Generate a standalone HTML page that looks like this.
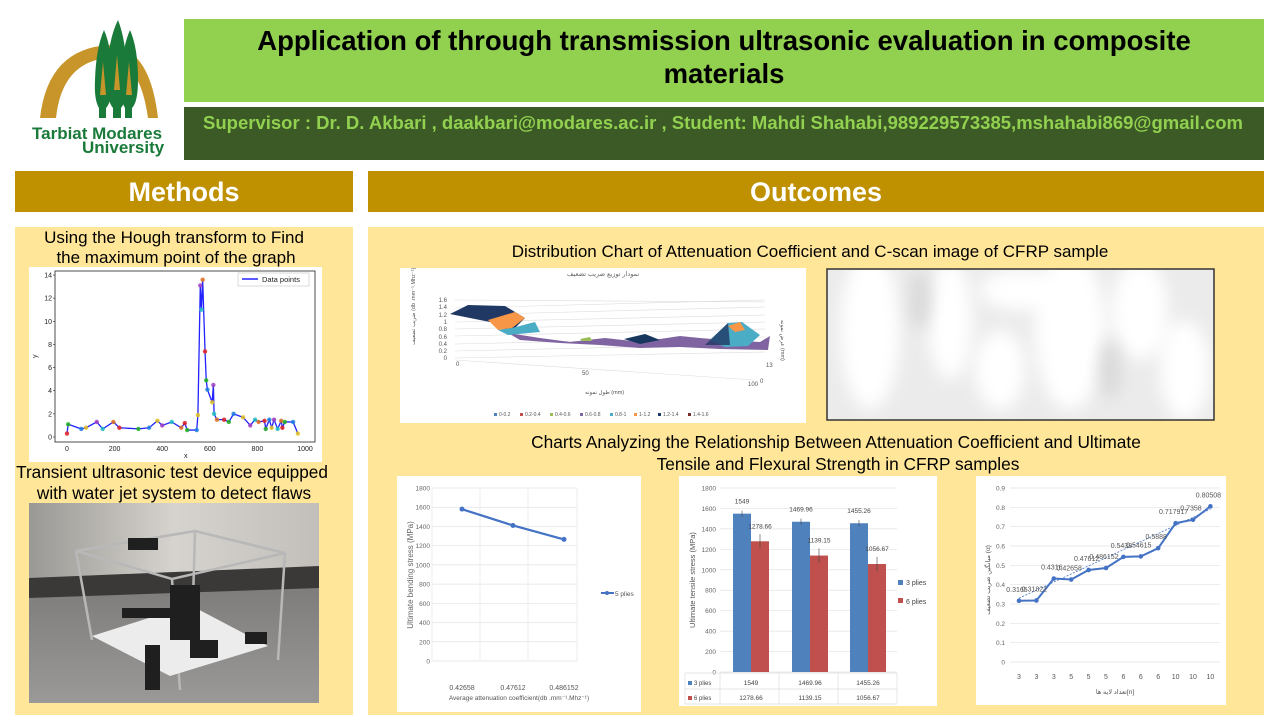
<!DOCTYPE html>
<html><head><meta charset="utf-8">
<style>
html,body{margin:0;padding:0;background:#fff;}
body{width:1280px;height:720px;overflow:hidden;font-family:"Liberation Sans","DejaVu Sans",sans-serif;}
svg text{font-family:"Liberation Sans","DejaVu Sans",sans-serif;}
</style></head><body>
<svg id="s" width="1280" height="720" viewBox="0 0 1280 720" xmlns="http://www.w3.org/2000/svg">
<defs>
<filter id="bl" x="-50%" y="-50%" width="200%" height="200%"><feGaussianBlur stdDeviation="8"/></filter>
<clipPath id="cs"><rect x="828" y="270" width="385" height="149"/></clipPath>
<linearGradient id="wall" x1="0" y1="0" x2="1" y2="0"><stop offset="0" stop-color="#9a9894"/><stop offset="0.5" stop-color="#d6d3ce"/><stop offset="1" stop-color="#c2bfba"/></linearGradient>
<linearGradient id="floor" x1="0" y1="0" x2="0" y2="1"><stop offset="0" stop-color="#7e7d7b"/><stop offset="1" stop-color="#9a9997"/></linearGradient>
</defs>
<rect width="1280" height="720" fill="#fff"/>
<!-- logo -->
<path d="M40,118 Q48,48 110,45 Q150,48 158,118 L148,118 Q140,60 108,58 Q62,62 56,118 Z" fill="#c8952a"/>
<path d="M118,20 Q126,40 127,75 Q128,100 121,108 L121,118 L113,118 L113,108 Q106,100 107,75 Q108,40 118,20Z" fill="#1a7a3a"/>
<path d="M104,30 Q112,48 112,80 Q112,102 106,108 L106,118 L99,118 L99,108 Q94,100 95,80 Q96,48 104,30Z" fill="#1a7a3a"/>
<path d="M130,30 Q138,48 138,80 Q138,102 132,108 L132,118 L125,118 L125,108 Q120,100 121,80 Q122,48 130,30Z" fill="#1a7a3a"/>
<path d="M103,62 L106,95 L100,95Z M129,62 L132,95 L126,95Z M117,55 L120,90 L114,90Z" fill="#c8952a"/>
<text x="32" y="139" font-size="17" font-weight="bold" fill="#1a7a3a">Tarbiat Modares</text>
<text x="82" y="153" font-size="17" font-weight="bold" fill="#1a7a3a">University</text>
<!-- header -->
<rect x="184" y="19" width="1080" height="83" fill="#92d050"/>
<text x="724" y="50" font-size="27.5" font-weight="bold" text-anchor="middle">Application of through transmission ultrasonic evaluation in composite</text>
<text x="724" y="83" font-size="27.5" font-weight="bold" text-anchor="middle">materials</text>
<rect x="184" y="107" width="1080" height="53" fill="#3b5a25"/>
<text x="723" y="129" font-size="18.5" font-weight="bold" fill="#92d050" text-anchor="middle">Supervisor : Dr. D. Akbari , daakbari@modares.ac.ir , Student: Mahdi Shahabi,989229573385,mshahabi869@gmail.com</text>
<rect x="15" y="171" width="338" height="41" fill="#bf9000"/>
<text x="184" y="201" font-size="27" font-weight="bold" fill="#fff" text-anchor="middle">Methods</text>
<rect x="368" y="171" width="896" height="41" fill="#bf9000"/>
<text x="816" y="201" font-size="27" font-weight="bold" fill="#fff" text-anchor="middle">Outcomes</text>
<rect x="15" y="227" width="338" height="488" fill="#ffe699"/>
<rect x="368" y="227" width="896" height="488" fill="#ffe699"/>
<text x="174" y="243" font-size="17" text-anchor="middle">Using the Hough transform to Find</text>
<text x="176" y="263" font-size="17" text-anchor="middle">the maximum point of the graph</text>
<!-- hough chart -->
<rect x="29" y="267" width="293" height="195" fill="#fff"/>
<rect x="55" y="271" width="260" height="171" fill="none" stroke="#222" stroke-width="0.8"/>
<g id="hough"></g>
<rect x="238" y="273" width="71" height="13" fill="#fff" stroke="#ccc" stroke-width="0.7"/>
<line x1="242" y1="279" x2="258" y2="279" stroke="#2222ff" stroke-width="1.5"/>
<text x="262" y="282" font-size="7.5" fill="#222">Data points</text>
<text x="184" y="458" font-size="7" fill="#222">x</text>
<text x="37" y="358" font-size="7" fill="#222" transform="rotate(-90 37 358)">y</text>
<text x="172" y="478" font-size="17.2" text-anchor="middle">Transient ultrasonic test device equipped</text>
<text x="174" y="499" font-size="17.2" text-anchor="middle">with water jet system to detect flaws</text>
<!-- photo -->
<rect x="29" y="503" width="290" height="200" fill="url(#wall)"/>
<polygon points="29,578 319,566 319,590 29,600" fill="#3a3937"/>
<polygon points="29,598 319,588 319,703 29,703" fill="url(#floor)"/>
<g stroke="#b8b8b8" stroke-width="2.5" fill="none">
<polyline points="76,551 195,531 285,553 172,579 76,551"/>
<line x1="76" y1="551" x2="92" y2="640"/><line x1="172" y1="579" x2="180" y2="690"/><line x1="285" y1="553" x2="278" y2="660"/><line x1="195" y1="531" x2="193" y2="600"/>
</g>
<polygon points="92,636 190,605 268,646 170,676" fill="#ececec"/>
<g fill="#1f1f1f"><rect x="170" y="585" width="30" height="55"/><rect x="128" y="538" width="30" height="12"/><rect x="122" y="608" width="55" height="10"/><rect x="190" y="640" width="28" height="18"/><rect x="245" y="632" width="22" height="12"/><rect x="145" y="645" width="15" height="45"/></g>
<!-- outcomes titles -->
<text x="810" y="257" font-size="17" text-anchor="middle">Distribution Chart of  Attenuation Coefficient and C-scan image of CFRP sample</text>
<!-- 3D chart -->
<rect x="400" y="268" width="406" height="155" fill="#fff"/>
<text x="603" y="276" font-size="6.5" fill="#666" text-anchor="middle">نمودار توزیع ضریب تضعیف</text>
<g stroke="#ddd" stroke-width="0.6" fill="none">
<path d="M455,358 L765,352 M455,351 L765,344 M455,344 L765,337 M455,336 L765,329 M455,329 L765,322 M455,322 L765,315 M455,315 L765,307 M455,308 L765,300 M455,300 L765,302"/>
<path d="M455,360 L755,380"/>
</g>
<g font-size="6" fill="#555" text-anchor="end">
<text x="447" y="360">0</text><text x="447" y="353">0.2</text><text x="447" y="346">0.4</text><text x="447" y="339">0.6</text><text x="447" y="331">0.8</text><text x="447" y="324">1</text><text x="447" y="317">1.2</text><text x="447" y="309">1.4</text><text x="447" y="302">1.6</text>
</g>
<text x="456" y="366" font-size="6" fill="#555">0</text><text x="582" y="375" font-size="6" fill="#555">50</text><text x="748" y="386" font-size="6" fill="#555">100</text><text x="760" y="383" font-size="6" fill="#555">0</text><text x="766" y="367" font-size="6" fill="#555">13</text>
<text x="585" y="394" font-size="5.5" fill="#555">طول نمونه (mm)</text>
<text x="415" y="345" font-size="5.5" fill="#555" transform="rotate(-90 415 345)">ضریب تضعیف (db .mm⁻¹.Mhz⁻¹)</text>
<text x="781" y="320" font-size="5.5" fill="#555" transform="rotate(90 781 320)">عرض نمونه (mm)</text>
<polygon points="508,333 540,338 570,342 605,338 640,342 680,336 720,340 760,342 770,336 768,350 720,349 680,347 640,348 600,345 560,343 520,340" fill="#8064a2"/>
<polygon points="450,314 468,305 505,306 525,318 510,333 490,322" fill="#1f3864"/>
<polygon points="488,320 515,312 525,318 512,328 498,330" fill="#f79646"/>
<polygon points="498,330 512,328 535,322 540,332 508,335" fill="#4bacc6"/>
<polygon points="624,339 645,334 660,340 640,344" fill="#17375e"/>
<polygon points="710,340 728,323 742,322 760,335 748,346 725,347" fill="#4bacc6"/>
<polygon points="728,326 740,322 745,330 735,332" fill="#f79646"/>
<polygon points="705,345 728,323 730,345" fill="#1f3864" opacity="0.8"/>
<polygon points="580,339 590,337 592,341 582,341" fill="#9bbb59"/>
<g font-size="5" fill="#555">
<rect x="494" y="413" width="3" height="3" fill="#4f81bd"/><text x="499" y="416">0-0.2</text>
<rect x="520" y="413" width="3" height="3" fill="#c0504d"/><text x="525" y="416">0.2-0.4</text>
<rect x="550" y="413" width="3" height="3" fill="#9bbb59"/><text x="555" y="416">0.4-0.6</text>
<rect x="580" y="413" width="3" height="3" fill="#8064a2"/><text x="585" y="416">0.6-0.8</text>
<rect x="610" y="413" width="3" height="3" fill="#4bacc6"/><text x="615" y="416">0.8-1</text>
<rect x="634" y="413" width="3" height="3" fill="#f79646"/><text x="639" y="416">1-1.2</text>
<rect x="658" y="413" width="3" height="3" fill="#1f3864"/><text x="663" y="416">1.2-1.4</text>
<rect x="688" y="413" width="3" height="3" fill="#772c2a"/><text x="693" y="416">1.4-1.6</text>
</g>
<!-- C-scan -->
<rect x="827" y="269" width="387" height="151" fill="#ebebeb"/>
<g clip-path="url(#cs)">
<g filter="url(#bl)" fill="#fff">
<ellipse cx="870" cy="330" rx="30" ry="80"/><ellipse cx="950" cy="320" rx="22" ry="60"/><ellipse cx="1000" cy="370" rx="25" ry="40"/><ellipse cx="1070" cy="330" rx="35" ry="80"/><ellipse cx="1140" cy="310" rx="28" ry="50"/><ellipse cx="1185" cy="370" rx="25" ry="50"/><ellipse cx="1020" cy="290" rx="40" ry="20"/>
</g>
<g filter="url(#bl)" fill="#d8d8d8"><ellipse cx="920" cy="300" rx="10" ry="30"/><ellipse cx="1110" cy="370" rx="10" ry="30"/></g>
</g>
<rect x="827" y="269" width="387" height="151" fill="none" stroke="#333" stroke-width="1.5"/>
<text x="836" y="448" font-size="17.3" text-anchor="middle">Charts Analyzing the Relationship Between Attenuation Coefficient and Ultimate</text>
<text x="838" y="470" font-size="17.3" text-anchor="middle">Tensile and Flexural Strength in CFRP samples</text>
<!-- chart1 -->
<rect x="397" y="476" width="244" height="236" fill="#fff"/>
<g id="c1"></g>
<!-- chart2 -->
<rect x="679" y="476" width="258" height="230" fill="#fff"/>
<g id="c2"></g>
<!-- chart3 -->
<rect x="976" y="476" width="250" height="229" fill="#fff"/>
<g id="c3"></g>
</svg>
<script>
var NS="http://www.w3.org/2000/svg";
function el(p,t,a,txt){var e=document.createElementNS(NS,t);for(var k in a)e.setAttribute(k,a[k]);if(txt!==undefined)e.textContent=txt;document.getElementById(p).appendChild(e);return e;}
var hx=function(x){return 67+x*0.238},hy=function(y){return 437-y*11.57};
for(var i=0;i<=14;i+=2){el('hough','text',{x:52,y:hy(i)+2.5,'font-size':7,fill:'#222','text-anchor':'end'},i);el('hough','line',{x1:53,x2:55,y1:hy(i),y2:hy(i),stroke:'#222','stroke-width':0.6});}
for(var i=0;i<=1000;i+=200){el('hough','text',{x:hx(i),y:451,'font-size':7,fill:'#222','text-anchor':'middle'},i);}
var hd=[[0,0.3],[5,1.1],[60,0.7],[80,0.8],[125,1.3],[150,0.7],[195,1.3],[220,0.8],[300,0.7],[345,0.8],[380,1.4],[400,1.0],[440,1.3],[480,0.8],[495,1.2],[505,0.6],[545,0.6],[550,1.9],[560,13.1],[565,11],[570,13.6],[580,7.4],[585,4.9],[590,4.1],[610,3],[615,4.5],[618,2],[630,1.5],[660,1.5],[680,1.3],[700,2],[740,1.7],[770,1],[790,1.5],[805,1.3],[830,1.4],[835,0.7],[850,1.5],[860,0.8],[870,1.5],[885,0.7],[900,1.4],[905,0.8],[915,1.3],[950,1.3],[970,0.3]];
var cols=['#e02020','#20b020','#2080e0','#e0c020','#a040c0','#20c0c0','#e07020'];
el('hough','polyline',{points:hd.map(function(d){return hx(d[0])+','+hy(d[1])}).join(' '),fill:'none',stroke:'#2222ff','stroke-width':1.3});
hd.forEach(function(d,i){el('hough','circle',{cx:hx(d[0]),cy:hy(d[1]),r:2.2,fill:cols[i%7],opacity:0.85});});
var y1=function(v){return 661-v/1800*173};
for(var v=0;v<=1800;v+=200){el('c1','line',{x1:432,x2:577,y1:y1(v),y2:y1(v),stroke:'#e2e2e2','stroke-width':0.7});el('c1','text',{x:430,y:y1(v)+2.5,'font-size':6.5,fill:'#666','text-anchor':'end'},v);}
[432,480,528,577].forEach(function(x){el('c1','line',{x1:x,x2:x,y1:488,y2:661,stroke:'#e6e6e6','stroke-width':0.7});});
var p1=[[462,1580],[513,1410],[564,1265]];
el('c1','polyline',{points:p1.map(function(p){return p[0]+','+y1(p[1])}).join(' '),fill:'none',stroke:'#4472c4','stroke-width':2.2});
p1.forEach(function(p){el('c1','circle',{cx:p[0],cy:y1(p[1]),r:2.5,fill:'#4472c4'});});
['0.42658','0.47612','0.486152'].forEach(function(t,i){el('c1','text',{x:p1[i][0],y:690,'font-size':7,fill:'#555','text-anchor':'middle'},t);});
el('c1','text',{x:519,y:700,'font-size':6.5,fill:'#555','text-anchor':'middle'},'Average attenuation coefficient(db .mm⁻¹.Mhz⁻¹)');
el('c1','text',{x:413,y:575,'font-size':8,fill:'#666','text-anchor':'middle',transform:'rotate(-90 413 575)'},'Ultimate bending  stress (MPa)');
el('c1','line',{x1:601,x2:614,y1:593,y2:593,stroke:'#4472c4','stroke-width':2});el('c1','circle',{cx:607,cy:593,r:2,fill:'#4472c4'});
el('c1','text',{x:615,y:596,'font-size':6.5,fill:'#555'},'5 plies');
var y2=function(v){return 672-v/1800*184};
for(var v=0;v<=1800;v+=200){el('c2','line',{x1:720,x2:897,y1:y2(v),y2:y2(v),stroke:'#e2e2e2','stroke-width':0.7});el('c2','text',{x:716,y:y2(v)+2.5,'font-size':6.5,fill:'#666','text-anchor':'end'},v);}
var b3=[1549,1469.96,1455.26],b6=[1278.66,1139.15,1056.67],bx=[733,792,850];
for(var i=0;i<3;i++){
el('c2','rect',{x:bx[i],y:y2(b3[i]),width:18,height:672-y2(b3[i]),fill:'#4f81bd'});
el('c2','rect',{x:bx[i]+18,y:y2(b6[i]),width:18,height:672-y2(b6[i]),fill:'#c0504d'});
el('c2','line',{x1:bx[i]+9,x2:bx[i]+9,y1:y2(b3[i]+30),y2:y2(b3[i]-30),stroke:'#444','stroke-width':0.6});
el('c2','line',{x1:bx[i]+27,x2:bx[i]+27,y1:y2(b6[i]+70),y2:y2(b6[i]-70),stroke:'#444','stroke-width':0.6});
el('c2','text',{x:bx[i]+9,y:y2(b3[i])-10,'font-size':6.5,fill:'#444','text-anchor':'middle'},b3[i]);
el('c2','text',{x:bx[i]+27,y:y2(b6[i])-13,'font-size':6.5,fill:'#444','text-anchor':'middle'},b6[i]);
el('c2','text',{x:bx[i]+18,y:685,'font-size':6.5,fill:'#444','text-anchor':'middle'},b3[i]);
el('c2','text',{x:bx[i]+18,y:700,'font-size':6.5,fill:'#444','text-anchor':'middle'},b6[i]);
}
[[685,673,897,673],[685,689,897,689],[685,704,897,704],[685,673,685,704],[720,673,720,704],[779,673,779,704],[838,673,838,704],[897,673,897,704]].forEach(function(l){el('c2','line',{x1:l[0],y1:l[1],x2:l[2],y2:l[3],stroke:'#ddd','stroke-width':0.7});});
el('c2','rect',{x:688,y:681,width:4,height:4,fill:'#4f81bd'});el('c2','text',{x:694,y:685,'font-size':6,fill:'#444'},'3 plies');
el('c2','rect',{x:688,y:696,width:4,height:4,fill:'#c0504d'});el('c2','text',{x:694,y:700,'font-size':6,fill:'#444'},'6 plies');
el('c2','rect',{x:898,y:580,width:5,height:5,fill:'#4f81bd'});el('c2','text',{x:906,y:585,'font-size':7,fill:'#444'},'3 plies');
el('c2','rect',{x:898,y:598,width:5,height:5,fill:'#c0504d'});el('c2','text',{x:906,y:604,'font-size':7,fill:'#444'},'6 plies');
el('c2','text',{x:695,y:580,'font-size':7.5,fill:'#555','text-anchor':'middle',transform:'rotate(-90 695 580)'},'Ultimate tensile stress (MPa)');
var y3=function(v){return 662-v/0.9*174};
for(var k=0;k<=9;k++){var v=k/10;el('c3','line',{x1:1010,x2:1220,y1:y3(v),y2:y3(v),stroke:'#e2e2e2','stroke-width':0.7});el('c3','text',{x:1005,y:y3(v)+2.5,'font-size':6.5,fill:'#666','text-anchor':'end'},k==0?'0':v.toFixed(1));}
var d3=[0.3165,0.31822,0.4316,0.42658,0.47612,0.486152,0.5438,0.54615,0.5888,0.717917,0.7358,0.80508],n3=[3,3,3,5,5,5,6,6,6,10,10,10];
var lb=['0.3165','0.31822','0.4316','0.42658','0.47612','0.486152','0.5438','0.54615','0.5888','0.717917','0.7358','0.80508'];
var x3=function(i){return 1019+i*17.4};
el('c3','line',{x1:x3(0),y1:y3(0.33),x2:x3(11),y2:y3(0.79),stroke:'#4472c4','stroke-width':0.8,'stroke-dasharray':'2,1.5'});
el('c3','polyline',{points:d3.map(function(v,i){return x3(i)+','+y3(v)}).join(' '),fill:'none',stroke:'#4472c4','stroke-width':2});
d3.forEach(function(v,i){el('c3','circle',{cx:x3(i),cy:y3(v),r:2.3,fill:'#4472c4'});el('c3','text',{x:x3(i)-2,y:y3(v)-9,'font-size':7,fill:'#555','text-anchor':'middle'},lb[i]);el('c3','text',{x:x3(i),y:679,'font-size':7,fill:'#555','text-anchor':'middle'},n3[i]);});
el('c3','text',{x:1115,y:694,'font-size':6.5,fill:'#555','text-anchor':'middle'},'تعداد لایه ها[n]');
el('c3','text',{x:990,y:580,'font-size':6.5,fill:'#555','text-anchor':'middle',transform:'rotate(-90 990 580)'},'میانگین ضریب تضعیف (α)');
</script>
</body></html>
